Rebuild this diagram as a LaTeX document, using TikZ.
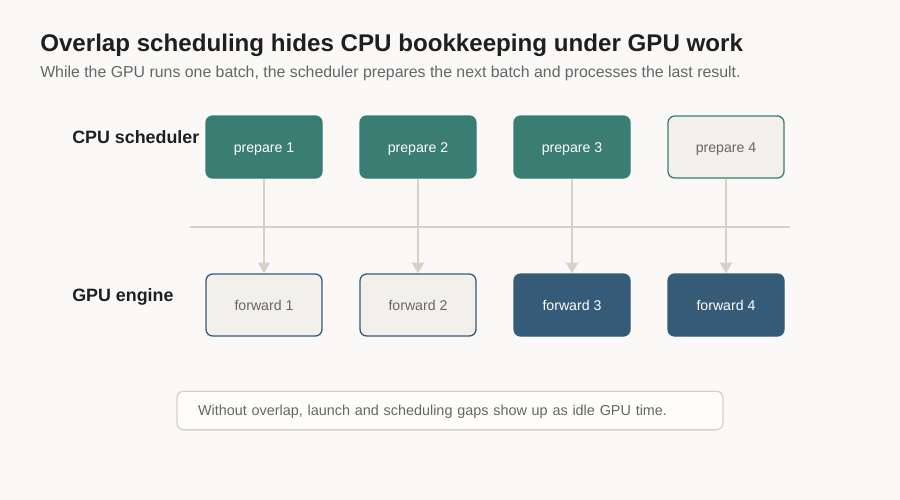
\documentclass[tikz,border=0pt]{standalone}
\usepackage{fontspec}
\setmainfont{Liberation Sans}
\usepackage{tikz}
\usetikzlibrary{arrows.meta, positioning, calc}
\definecolor{bgcol}{HTML}{FAF9F7}
\definecolor{cpucol}{HTML}{3A7D72}
\definecolor{gpucol}{HTML}{365B78}
\definecolor{idlecol}{HTML}{F3F0EB}
\definecolor{linecol}{HTML}{D6D2C8}
\definecolor{notecol}{HTML}{FEFDF9}
\definecolor{inkcol}{HTML}{1F1F1F}
\definecolor{greycol}{HTML}{666666}

\begin{document}
\begin{tikzpicture}[x=0.75pt, y=-0.75pt, font=\fontsize{10.6}{13}\selectfont,
    stage/.style={rounded corners=5pt, minimum width=87pt, minimum height=46.5pt, text height=7.6pt, text depth=0pt, align=center, line width=1pt},
    busycpu/.style={stage, fill=cpucol, draw=cpucol, text=white},
    idlecpu/.style={stage, fill=idlecol, draw=cpucol, text=greycol},
    busygpu/.style={stage, fill=gpucol, draw=gpucol, text=white},
    idlegpu/.style={stage, fill=idlecol, draw=gpucol, text=greycol},
    lane/.style={font=\fontsize{13.4}{16}\selectfont\bfseries, text=inkcol, anchor=west, inner sep=0pt, text height=9.6pt, text depth=0pt},
    arrow/.style={-{Triangle[width=9pt, length=8pt]}, draw=linecol, line width=1.4pt}
]
    \fill[bgcol] (0,0) rectangle (900,500);
    \useasboundingbox (0,0) rectangle (900,500);

    \node[anchor=base west, inner sep=0pt, text=inkcol, font=\fontsize{18.1}{22}\selectfont\bfseries] (title) at (40,51) {Overlap scheduling hides CPU bookkeeping under GPU work};
    \node[anchor=base west, inner sep=0pt, text=greycol, font=\fontsize{11.9}{14}\selectfont] (subtitle) at (40,77) {While the GPU runs one batch, the scheduler prepares the next batch and processes the last result.};

    \node[lane] (cpulane) at (72,137) {CPU scheduler};
    \node[lane] (gpulane) at (72,295) {GPU engine};

    \draw[linecol, line width=1.4pt] (190,227) -- (790,227);

    \node[busycpu] (p1) at (264,147) {prepare 1};
    \node[busycpu] (p2) at (418,147) {prepare 2};
    \node[busycpu] (p3) at (572,147) {prepare 3};
    \node[idlecpu] (p4) at (726,147) {prepare 4};

    \node[idlegpu] (f1) at (264,305) {forward 1};
    \node[idlegpu] (f2) at (418,305) {forward 2};
    \node[busygpu] (f3) at (572,305) {forward 3};
    \node[busygpu] (f4) at (726,305) {forward 4};

    \foreach \i in {1,...,4}
        \draw[arrow] (p\i) -- (f\i);

    \node[draw=linecol, fill=notecol, line width=1pt, rounded corners=5pt, inner xsep=15.75pt, minimum height=29pt, text height=7.8pt, text depth=0pt, text=greycol, font=\fontsize{10.8}{13}\selectfont, text width=378pt, align=left] (note) at (450,410.5) {Without overlap, launch and scheduling gaps show up as idle GPU time.};
\end{tikzpicture}
\end{document}
